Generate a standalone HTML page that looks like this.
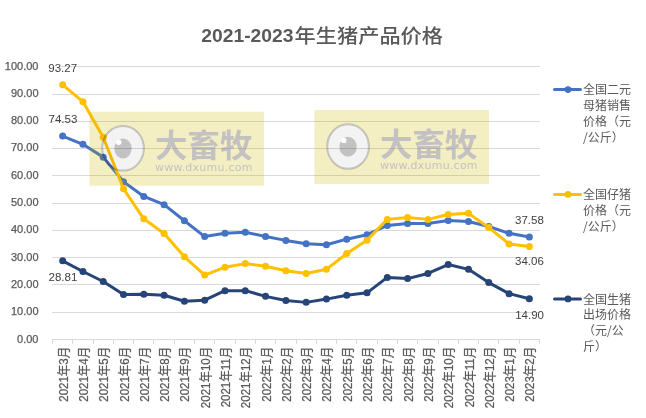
<!DOCTYPE html>
<html><head><meta charset="utf-8"><title>2021-2023年生猪产品价格</title>
<style>html,body{margin:0;padding:0;background:#fff;}
body{width:646px;height:418px;position:relative;overflow:hidden;}
svg{position:absolute;left:0;top:0;display:block;}
text{font-family:"Liberation Sans","Noto Sans CJK SC",sans-serif;fill:#595959;}
.yl{font-size:11px;text-anchor:end;stroke:#595959;stroke-width:0.25px;}
.xl{font-size:13px;text-anchor:end;stroke:#595959;stroke-width:0.25px;}
.dl{font-size:11.5px;fill:#404040;}
.lg{font-size:12px;}
.sl{font-family:"Noto Sans CJK SC",sans-serif;}
.t1{font-size:18.4px;font-weight:700;}
.t2{font-family:"Noto Sans CJK SC",sans-serif;font-size:21.2px;font-weight:500;}
.wm1{font-family:"Noto Sans CJK SC",sans-serif;font-size:32px;font-weight:700;fill:rgb(148,148,194);fill-opacity:0.5;}
.wm2{font-family:"DejaVu Sans",sans-serif;font-size:11px;fill:rgb(148,148,194);fill-opacity:0.5;}
</style>
</head><body>
<svg width="646" height="418" viewBox="0 0 646 418"><line x1="52" y1="312.5" x2="540" y2="312.5" stroke="#D9D9D9"/><line x1="52" y1="284.5" x2="540" y2="284.5" stroke="#D9D9D9"/><line x1="52" y1="257.5" x2="540" y2="257.5" stroke="#D9D9D9"/><line x1="52" y1="230.5" x2="540" y2="230.5" stroke="#D9D9D9"/><line x1="52" y1="203.5" x2="540" y2="203.5" stroke="#D9D9D9"/><line x1="52" y1="175.5" x2="540" y2="175.5" stroke="#D9D9D9"/><line x1="52" y1="148.5" x2="540" y2="148.5" stroke="#D9D9D9"/><line x1="52" y1="121.5" x2="540" y2="121.5" stroke="#D9D9D9"/><line x1="52" y1="94.5" x2="540" y2="94.5" stroke="#D9D9D9"/><line x1="61" y1="66.5" x2="540" y2="66.5" stroke="#D9D9D9"/><line x1="52" y1="339.5" x2="540" y2="339.5" stroke="#D9D9D9"/><line x1="52.5" y1="339.5" x2="52.5" y2="344.0" stroke="#D9D9D9"/><line x1="72.5" y1="339.5" x2="72.5" y2="344.0" stroke="#D9D9D9"/><line x1="93.5" y1="339.5" x2="93.5" y2="344.0" stroke="#D9D9D9"/><line x1="113.5" y1="339.5" x2="113.5" y2="344.0" stroke="#D9D9D9"/><line x1="133.5" y1="339.5" x2="133.5" y2="344.0" stroke="#D9D9D9"/><line x1="153.5" y1="339.5" x2="153.5" y2="344.0" stroke="#D9D9D9"/><line x1="174.5" y1="339.5" x2="174.5" y2="344.0" stroke="#D9D9D9"/><line x1="194.5" y1="339.5" x2="194.5" y2="344.0" stroke="#D9D9D9"/><line x1="214.5" y1="339.5" x2="214.5" y2="344.0" stroke="#D9D9D9"/><line x1="235.5" y1="339.5" x2="235.5" y2="344.0" stroke="#D9D9D9"/><line x1="255.5" y1="339.5" x2="255.5" y2="344.0" stroke="#D9D9D9"/><line x1="275.5" y1="339.5" x2="275.5" y2="344.0" stroke="#D9D9D9"/><line x1="296.5" y1="339.5" x2="296.5" y2="344.0" stroke="#D9D9D9"/><line x1="316.5" y1="339.5" x2="316.5" y2="344.0" stroke="#D9D9D9"/><line x1="336.5" y1="339.5" x2="336.5" y2="344.0" stroke="#D9D9D9"/><line x1="356.5" y1="339.5" x2="356.5" y2="344.0" stroke="#D9D9D9"/><line x1="377.5" y1="339.5" x2="377.5" y2="344.0" stroke="#D9D9D9"/><line x1="397.5" y1="339.5" x2="397.5" y2="344.0" stroke="#D9D9D9"/><line x1="417.5" y1="339.5" x2="417.5" y2="344.0" stroke="#D9D9D9"/><line x1="438.5" y1="339.5" x2="438.5" y2="344.0" stroke="#D9D9D9"/><line x1="458.5" y1="339.5" x2="458.5" y2="344.0" stroke="#D9D9D9"/><line x1="478.5" y1="339.5" x2="478.5" y2="344.0" stroke="#D9D9D9"/><line x1="498.5" y1="339.5" x2="498.5" y2="344.0" stroke="#D9D9D9"/><line x1="519.5" y1="339.5" x2="519.5" y2="344.0" stroke="#D9D9D9"/><line x1="539.5" y1="339.5" x2="539.5" y2="344.0" stroke="#D9D9D9"/><text class="yl" x="38.5" y="342.5">0.00</text><text class="yl" x="38.5" y="315.2">10.00</text><text class="yl" x="38.5" y="287.9">20.00</text><text class="yl" x="38.5" y="260.6">30.00</text><text class="yl" x="38.5" y="233.3">40.00</text><text class="yl" x="38.5" y="206.0">50.00</text><text class="yl" x="38.5" y="178.7">60.00</text><text class="yl" x="38.5" y="151.4">70.00</text><text class="yl" x="38.5" y="124.1">80.00</text><text class="yl" x="38.5" y="96.8">90.00</text><text class="yl" x="38.5" y="69.5">100.00</text><text class="xl" transform="translate(67.6,346.8) rotate(-90) scale(0.885,1)">2021年3月</text><text class="xl" transform="translate(87.9,346.8) rotate(-90) scale(0.885,1)">2021年4月</text><text class="xl" transform="translate(108.2,346.8) rotate(-90) scale(0.885,1)">2021年5月</text><text class="xl" transform="translate(128.5,346.8) rotate(-90) scale(0.885,1)">2021年6月</text><text class="xl" transform="translate(148.8,346.8) rotate(-90) scale(0.885,1)">2021年7月</text><text class="xl" transform="translate(169.1,346.8) rotate(-90) scale(0.885,1)">2021年8月</text><text class="xl" transform="translate(189.4,346.8) rotate(-90) scale(0.885,1)">2021年9月</text><text class="xl" transform="translate(209.7,346.8) rotate(-90) scale(0.885,1)">2021年10月</text><text class="xl" transform="translate(230.0,346.8) rotate(-90) scale(0.885,1)">2021年11月</text><text class="xl" transform="translate(250.3,346.8) rotate(-90) scale(0.885,1)">2021年12月</text><text class="xl" transform="translate(270.6,346.8) rotate(-90) scale(0.885,1)">2022年1月</text><text class="xl" transform="translate(290.9,346.8) rotate(-90) scale(0.885,1)">2022年2月</text><text class="xl" transform="translate(311.1,346.8) rotate(-90) scale(0.885,1)">2022年3月</text><text class="xl" transform="translate(331.4,346.8) rotate(-90) scale(0.885,1)">2022年4月</text><text class="xl" transform="translate(351.7,346.8) rotate(-90) scale(0.885,1)">2022年5月</text><text class="xl" transform="translate(372.0,346.8) rotate(-90) scale(0.885,1)">2022年6月</text><text class="xl" transform="translate(392.3,346.8) rotate(-90) scale(0.885,1)">2022年7月</text><text class="xl" transform="translate(412.6,346.8) rotate(-90) scale(0.885,1)">2022年8月</text><text class="xl" transform="translate(432.9,346.8) rotate(-90) scale(0.885,1)">2022年9月</text><text class="xl" transform="translate(453.2,346.8) rotate(-90) scale(0.885,1)">2022年10月</text><text class="xl" transform="translate(473.5,346.8) rotate(-90) scale(0.885,1)">2022年11月</text><text class="xl" transform="translate(493.8,346.8) rotate(-90) scale(0.885,1)">2022年12月</text><text class="xl" transform="translate(514.1,346.8) rotate(-90) scale(0.885,1)">2023年1月</text><text class="xl" transform="translate(534.4,346.8) rotate(-90) scale(0.885,1)">2023年2月</text><polyline points="62.65,136.03 82.94,144.31 103.23,157.14 123.52,181.71 143.81,196.45 164.10,204.64 184.40,220.75 204.69,236.58 224.98,233.30 245.27,232.21 265.56,236.58 285.85,240.40 306.15,243.68 326.44,244.77 346.73,239.17 367.02,234.67 387.31,225.39 407.60,223.47 427.90,223.47 448.19,220.47 468.48,221.56 488.77,226.48 509.06,233.30 529.35,236.91" fill="none" stroke="#4472C4" stroke-width="3" stroke-linejoin="round" stroke-linecap="round"/><circle cx="62.65" cy="136.03" r="3.5" fill="#4472C4"/><circle cx="82.94" cy="144.31" r="3.5" fill="#4472C4"/><circle cx="103.23" cy="157.14" r="3.5" fill="#4472C4"/><circle cx="123.52" cy="181.71" r="3.5" fill="#4472C4"/><circle cx="143.81" cy="196.45" r="3.5" fill="#4472C4"/><circle cx="164.10" cy="204.64" r="3.5" fill="#4472C4"/><circle cx="184.40" cy="220.75" r="3.5" fill="#4472C4"/><circle cx="204.69" cy="236.58" r="3.5" fill="#4472C4"/><circle cx="224.98" cy="233.30" r="3.5" fill="#4472C4"/><circle cx="245.27" cy="232.21" r="3.5" fill="#4472C4"/><circle cx="265.56" cy="236.58" r="3.5" fill="#4472C4"/><circle cx="285.85" cy="240.40" r="3.5" fill="#4472C4"/><circle cx="306.15" cy="243.68" r="3.5" fill="#4472C4"/><circle cx="326.44" cy="244.77" r="3.5" fill="#4472C4"/><circle cx="346.73" cy="239.17" r="3.5" fill="#4472C4"/><circle cx="367.02" cy="234.67" r="3.5" fill="#4472C4"/><circle cx="387.31" cy="225.39" r="3.5" fill="#4472C4"/><circle cx="407.60" cy="223.47" r="3.5" fill="#4472C4"/><circle cx="427.90" cy="223.47" r="3.5" fill="#4472C4"/><circle cx="448.19" cy="220.47" r="3.5" fill="#4472C4"/><circle cx="468.48" cy="221.56" r="3.5" fill="#4472C4"/><circle cx="488.77" cy="226.48" r="3.5" fill="#4472C4"/><circle cx="509.06" cy="233.30" r="3.5" fill="#4472C4"/><circle cx="529.35" cy="236.91" r="3.5" fill="#4472C4"/><polyline points="62.65,84.87 82.94,101.72 103.23,137.21 123.52,188.80 143.81,218.83 164.10,233.58 184.40,256.78 204.69,275.07 224.98,267.15 245.27,263.61 265.56,266.34 285.85,270.70 306.15,273.43 326.44,269.34 346.73,253.50 367.02,240.13 387.31,219.38 407.60,217.47 427.90,219.38 448.19,214.47 468.48,213.37 488.77,227.57 509.06,243.95 529.35,246.52" fill="none" stroke="#FFC000" stroke-width="3" stroke-linejoin="round" stroke-linecap="round"/><circle cx="62.65" cy="84.87" r="3.5" fill="#FFC000"/><circle cx="82.94" cy="101.72" r="3.5" fill="#FFC000"/><circle cx="103.23" cy="137.21" r="3.5" fill="#FFC000"/><circle cx="123.52" cy="188.80" r="3.5" fill="#FFC000"/><circle cx="143.81" cy="218.83" r="3.5" fill="#FFC000"/><circle cx="164.10" cy="233.58" r="3.5" fill="#FFC000"/><circle cx="184.40" cy="256.78" r="3.5" fill="#FFC000"/><circle cx="204.69" cy="275.07" r="3.5" fill="#FFC000"/><circle cx="224.98" cy="267.15" r="3.5" fill="#FFC000"/><circle cx="245.27" cy="263.61" r="3.5" fill="#FFC000"/><circle cx="265.56" cy="266.34" r="3.5" fill="#FFC000"/><circle cx="285.85" cy="270.70" r="3.5" fill="#FFC000"/><circle cx="306.15" cy="273.43" r="3.5" fill="#FFC000"/><circle cx="326.44" cy="269.34" r="3.5" fill="#FFC000"/><circle cx="346.73" cy="253.50" r="3.5" fill="#FFC000"/><circle cx="367.02" cy="240.13" r="3.5" fill="#FFC000"/><circle cx="387.31" cy="219.38" r="3.5" fill="#FFC000"/><circle cx="407.60" cy="217.47" r="3.5" fill="#FFC000"/><circle cx="427.90" cy="219.38" r="3.5" fill="#FFC000"/><circle cx="448.19" cy="214.47" r="3.5" fill="#FFC000"/><circle cx="468.48" cy="213.37" r="3.5" fill="#FFC000"/><circle cx="488.77" cy="227.57" r="3.5" fill="#FFC000"/><circle cx="509.06" cy="243.95" r="3.5" fill="#FFC000"/><circle cx="529.35" cy="246.52" r="3.5" fill="#FFC000"/><polyline points="62.65,260.85 82.94,271.52 103.23,281.49 123.52,294.59 143.81,294.32 164.10,295.27 184.40,301.28 204.69,300.19 224.98,290.63 245.27,290.63 265.56,296.37 285.85,300.46 306.15,302.37 326.44,299.10 346.73,295.27 367.02,292.82 387.31,277.39 407.60,278.62 427.90,273.43 448.19,264.56 468.48,269.34 488.77,282.58 509.06,293.64 529.35,298.82" fill="none" stroke="#264478" stroke-width="3" stroke-linejoin="round" stroke-linecap="round"/><circle cx="62.65" cy="260.85" r="3.5" fill="#264478"/><circle cx="82.94" cy="271.52" r="3.5" fill="#264478"/><circle cx="103.23" cy="281.49" r="3.5" fill="#264478"/><circle cx="123.52" cy="294.59" r="3.5" fill="#264478"/><circle cx="143.81" cy="294.32" r="3.5" fill="#264478"/><circle cx="164.10" cy="295.27" r="3.5" fill="#264478"/><circle cx="184.40" cy="301.28" r="3.5" fill="#264478"/><circle cx="204.69" cy="300.19" r="3.5" fill="#264478"/><circle cx="224.98" cy="290.63" r="3.5" fill="#264478"/><circle cx="245.27" cy="290.63" r="3.5" fill="#264478"/><circle cx="265.56" cy="296.37" r="3.5" fill="#264478"/><circle cx="285.85" cy="300.46" r="3.5" fill="#264478"/><circle cx="306.15" cy="302.37" r="3.5" fill="#264478"/><circle cx="326.44" cy="299.10" r="3.5" fill="#264478"/><circle cx="346.73" cy="295.27" r="3.5" fill="#264478"/><circle cx="367.02" cy="292.82" r="3.5" fill="#264478"/><circle cx="387.31" cy="277.39" r="3.5" fill="#264478"/><circle cx="407.60" cy="278.62" r="3.5" fill="#264478"/><circle cx="427.90" cy="273.43" r="3.5" fill="#264478"/><circle cx="448.19" cy="264.56" r="3.5" fill="#264478"/><circle cx="468.48" cy="269.34" r="3.5" fill="#264478"/><circle cx="488.77" cy="282.58" r="3.5" fill="#264478"/><circle cx="509.06" cy="293.64" r="3.5" fill="#264478"/><circle cx="529.35" cy="298.82" r="3.5" fill="#264478"/><g transform="translate(89.3,111.8)"><path d="M0,0 H174.6 V74 H0 Z M12.400000000000002,36.5 a21.3,22.8 0 1,0 42.6,0 a21.3,22.8 0 1,0 -42.6,0 Z" fill-rule="evenodd" fill="#FCFAEA" style="mix-blend-mode:multiply"/><path d="M0,0 H174.6 V74 H0 Z M12.400000000000002,36.5 a21.3,22.8 0 1,0 42.6,0 a21.3,22.8 0 1,0 -42.6,0 Z" fill-rule="evenodd" fill="rgb(208,189,23)" fill-opacity="0.18"/></g><g transform="translate(89.3,111.8)" style="mix-blend-mode:multiply"><ellipse cx="33.7" cy="36.5" rx="20.8" ry="22.3" fill="#F3F3F3" stroke="#C6C6C6" stroke-width="2"/><ellipse cx="33.7" cy="36.7" rx="8.7" ry="10" fill="#C2C2C2"/><circle cx="29.4" cy="30.4" r="2.7" fill="#FFFFFF"/></g><g transform="translate(89.3,111.8)"><text class="wm1" x="65.6" y="45.5" textLength="97.6" lengthAdjust="spacingAndGlyphs">大畜牧</text><text class="wm2" x="65.6" y="59.3" textLength="97.6" lengthAdjust="spacing">www.dxumu.com</text></g><g transform="translate(314.4,110.0)"><path d="M0,0 H174.6 V74 H0 Z M12.400000000000002,36.5 a21.3,22.8 0 1,0 42.6,0 a21.3,22.8 0 1,0 -42.6,0 Z" fill-rule="evenodd" fill="#FCFAEA" style="mix-blend-mode:multiply"/><path d="M0,0 H174.6 V74 H0 Z M12.400000000000002,36.5 a21.3,22.8 0 1,0 42.6,0 a21.3,22.8 0 1,0 -42.6,0 Z" fill-rule="evenodd" fill="rgb(208,189,23)" fill-opacity="0.18"/></g><g transform="translate(314.4,110.0)" style="mix-blend-mode:multiply"><ellipse cx="33.7" cy="36.5" rx="20.8" ry="22.3" fill="#F3F3F3" stroke="#C6C6C6" stroke-width="2"/><ellipse cx="33.7" cy="36.7" rx="8.7" ry="10" fill="#C2C2C2"/><circle cx="29.4" cy="30.4" r="2.7" fill="#FFFFFF"/></g><g transform="translate(314.4,110.0)"><text class="wm1" x="65.6" y="45.5" textLength="97.6" lengthAdjust="spacingAndGlyphs">大畜牧</text><text class="wm2" x="65.6" y="59.3" textLength="97.6" lengthAdjust="spacing">www.dxumu.com</text></g><text class="dl" x="48.3" y="72">93.27</text><text class="dl" x="48.5" y="123.3">74.53</text><text class="dl" x="48.5" y="281.2">28.81</text><text class="dl" x="515" y="224.3">37.58</text><text class="dl" x="515" y="264.6">34.06</text><text class="dl" x="515.2" y="319.2">14.90</text><line x1="554.5" y1="89.6" x2="580.5" y2="89.6" stroke="#4472C4" stroke-width="3" stroke-linecap="round"/><circle cx="568" cy="89.6" r="3.4" fill="#4472C4"/><text class="lg" x="583" y="94.2">全国二元</text><text class="lg" x="583" y="110.1">母猪销售</text><text class="lg" x="583" y="126.0">价格（元</text><text class="lg" x="583" y="141.9"><tspan class="sl">/</tspan>公斤）</text><line x1="554.5" y1="194.4" x2="580.5" y2="194.4" stroke="#FFC000" stroke-width="3" stroke-linecap="round"/><circle cx="568" cy="194.4" r="3.4" fill="#FFC000"/><text class="lg" x="583" y="199.0">全国仔猪</text><text class="lg" x="583" y="214.9">价格（元</text><text class="lg" x="583" y="230.8"><tspan class="sl">/</tspan>公斤）</text><line x1="554.5" y1="298.9" x2="580.5" y2="298.9" stroke="#264478" stroke-width="3" stroke-linecap="round"/><circle cx="568" cy="298.9" r="3.4" fill="#264478"/><text class="lg" x="583" y="303.5">全国生猪</text><text class="lg" x="583" y="319.4">出场价格</text><text class="lg" x="583" y="335.3">（元<tspan class="sl">/</tspan>公</text><text class="lg" x="583" y="351.2">斤）</text><text class="t1" transform="translate(201.2,42) scale(1.05,1)">2021-2023</text><text class="t2" transform="translate(294.6,42.6) scale(1,0.93)">年生猪产品价格</text></svg>
</body></html>
